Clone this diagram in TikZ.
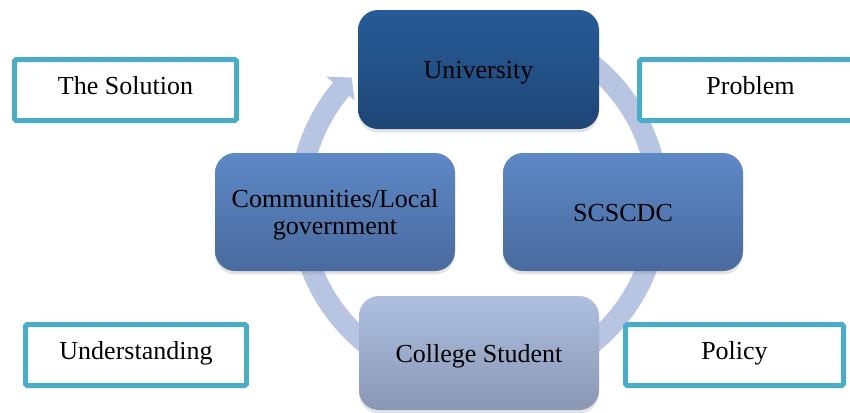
\documentclass[tikz,border=0pt]{standalone}
\usepackage{fontspec}
\setmainfont{Liberation Serif}
\usetikzlibrary{calc,shadows}
\definecolor{tealline}{HTML}{4BACC6}
\definecolor{ringfill}{HTML}{B8C5E2}
\definecolor{uniTop}{HTML}{275B97}
\definecolor{uniBot}{HTML}{1F4676}
\definecolor{midTop}{HTML}{5D88C6}
\definecolor{midBot}{HTML}{4A6A9E}
\definecolor{stuTop}{HTML}{AEBFE0}
\definecolor{stuBot}{HTML}{8A97B4}
\tikzset{
  cyclebase/.style={rounded corners=15pt, inner sep=2pt, align=center,
    font=\fontsize{19.5}{20.5}\selectfont, text=black,
    drop shadow={opacity=0.22, shadow xshift=0pt, shadow yshift=-2.5pt}},
  cyclebox/.style={cyclebase, text height=16pt, text depth=1.8pt},
  labelbox/.style={draw=tealline, line width=3.75pt, fill=white,
    rounded corners=1.2pt, inner sep=0pt, align=center,
    font=\fontsize{19.5}{20.5}\selectfont, minimum height=45.75pt,
    text height=12pt, text depth=5.5pt},
  ringpart/.style={fill=ringfill}
}
\newcommand\cycarrow[2]{%
  \fill[ringpart] ($(C)+(#1:190)$) arc[start angle=#1,end angle=#2,radius=190]
    -- ($(C)+(#2:199)$) -- ($(C)+(#2-5:179.5)$) -- ($(C)+(#2:162)$)
    -- ($(C)+(#2:169)$) arc[start angle=#2,end angle=#1,radius=169] -- cycle;}
\begin{document}
\begin{tikzpicture}[x=0.75pt,y=0.75pt]
\useasboundingbox (0,0) rectangle (850,-412);
\clip (0,0) rectangle (850,-412);
\coordinate (C) at (479,-204);
% cycle arrows
\cycarrow{100}{5}
\cycarrow{-5}{-55}
\cycarrow{-75}{-165}
\cycarrow{-175}{-219.8}
% cycle nodes
\node[cyclebox, top color=uniTop, bottom color=uniBot,
  minimum width=180.75pt, minimum height=89.25pt] (uni) at (478.5,-69.5) {University};
\node[cyclebox, top color=midTop, bottom color=midBot,
  minimum width=180pt, minimum height=88.5pt] (scs) at (623,-212) {SCSCDC};
\node[cyclebox, top color=stuTop, bottom color=stuBot,
  minimum width=180pt, minimum height=85.5pt] (stu) at (479,-353) {College Student};
\node[cyclebase, top color=midTop, bottom color=midBot, text depth=0pt,
  font=\fontsize{19.5}{20.5}\selectfont,
  minimum width=180pt, minimum height=88.5pt] (com) at (335,-212) {Communities/Local\\government};
% label boxes
\node[labelbox, minimum width=166.5pt] (sol) at (125.5,-90) {The Solution};
\node[labelbox, minimum width=166.5pt] (prob) at (750.5,-90) {Problem};
\node[labelbox, minimum width=165.75pt] (und) at (136,-355) {Understanding};
\node[labelbox, minimum width=163.5pt] (pol) at (734.5,-355) {Policy};
\end{tikzpicture}
\end{document}
